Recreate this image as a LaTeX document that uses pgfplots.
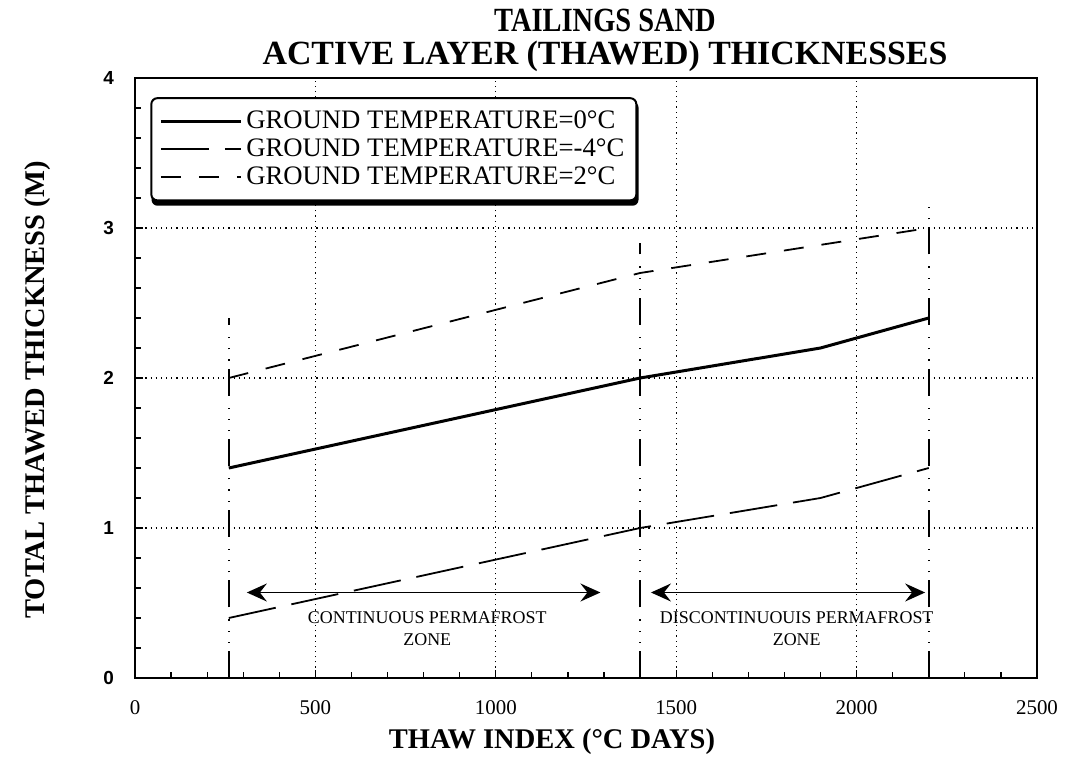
\documentclass[border=0pt]{standalone}
\usepackage{fontspec}
\setmainfont{Liberation Serif}
\newfontfamily\sansfont{Liberation Sans}
\usepackage{graphicx}
\usepackage{pgfplots}
\pgfplotsset{compat=1.18}
\usetikzlibrary{arrows.meta,backgrounds}

\begin{document}
\begin{tikzpicture}
\path[use as bounding box] (0,0) rectangle (535bp,386bp);
\begin{axis}[
  at={(67.5bp,47bp)}, anchor=south west,
  scale only axis, width=451bp, height=300bp,
  xmin=0, xmax=2500, ymin=0, ymax=4,
  xtick={0,500,1000,1500,2000,2500}, ytick={0,1,2,3,4},
  minor x tick num=4, minor y tick num=4,
  xtick pos=lower, ytick pos=left, tick align=inside,
  major tick length=4bp, minor tick length=3bp,
  grid=major, major grid style={black, line width=0.6bp, dotted},
  axis line style={line width=1.2bp},
  tick style={black, line width=0.6bp},
  /pgf/number format/assume math mode=true,
  /pgf/number format/set thousands separator={},
  xticklabel style={font=\fontsize{10.5}{12}\selectfont, yshift=-8bp},
  yticklabel style={font=\sansfont\bfseries\fontsize{9.5}{10}\selectfont, xshift=-7bp},
  legend style={name=leg, at={(0.017,0.968)}, anchor=north west, draw=black, line width=1bp,
    rounded corners=3bp, fill=white,
    font=\fontsize{13.4}{13.5}\selectfont, inner xsep=4bp, inner ysep=4.5bp, row sep=-0.5bp},
  legend cell align=left,
  legend image code/.code={\draw[#1] (0bp,0bp) -- (40bp,0bp);},
]
\addplot[black, line width=1.5bp] coordinates {(260,1.4) (1400,2.0) (1900,2.2) (2200,2.4)};
\addlegendentry{GROUND TEMPERATURE=0°C}
\addplot[black, line width=0.9bp, dash pattern=on 24bp off 8bp] coordinates {(260,0.4) (1400,1.0) (1900,1.2) (2200,1.4)};
\addlegendentry{GROUND TEMPERATURE=-4°C}
\addplot[black, line width=0.9bp, dash pattern=on 10bp off 9bp] coordinates {(260,2.0) (1400,2.7) (2200,3.0)};
\addlegendentry{GROUND TEMPERATURE=2°C}

\addplot[forget plot, black, line width=0.8bp, dash pattern=on 13.5bp off 4bp on 0.6bp off 5bp on 0.6bp off 5bp on 0.6bp off 6bp] coordinates {(260,0) (260,2.4)};
\addplot[forget plot, black, line width=0.8bp, dash pattern=on 13.5bp off 4bp on 0.6bp off 5bp on 0.6bp off 5bp on 0.6bp off 6bp] coordinates {(1400,0) (1400,2.9)};
\addplot[forget plot, black, line width=0.8bp, dash pattern=on 13.5bp off 4bp on 0.6bp off 5bp on 0.6bp off 5bp on 0.6bp off 6bp] coordinates {(2200,0) (2200,3.2)};

\draw[{Stealth[length=10bp,width=9bp,inset=3.5bp]}-{Stealth[length=10bp,width=9bp,inset=3.5bp]}, line width=0.8bp] (axis cs:310,0.57) -- (axis cs:1290,0.57);
\draw[{Stealth[length=10bp,width=9bp,inset=3.5bp]}-{Stealth[length=10bp,width=9bp,inset=3.5bp]}, line width=0.8bp] (axis cs:1430,0.57) -- (axis cs:2190,0.57);
\node[font=\fontsize{9}{11}\selectfont, align=center] at (axis cs:810,0.33) {CONTINUOUS PERMAFROST\\ZONE};
\node[font=\fontsize{9}{11}\selectfont, align=center] at (axis cs:1834,0.33) {DISCONTINUOUIS PERMAFROST\\ZONE};
\end{axis}
\begin{scope}[on background layer]
\fill[black, rounded corners=3bp] ([xshift=0.6bp,yshift=-2.2bp]leg.south west) rectangle ([xshift=0.6bp,yshift=-2.2bp]leg.north east);
\end{scope}
\node[font=\bfseries\fontsize{17}{16.5}\selectfont, align=center] at (302.5bp,366bp) {\scalebox{0.84}[1]{TAILINGS SAND}\\ACTIVE LAYER (THAWED) THICKNESSES};
\node[font=\bfseries\fontsize{14.3}{16}\selectfont] at (276bp,15bp) {THAW INDEX (°C DAYS)};
\node[font=\bfseries\fontsize{14.3}{16}\selectfont, rotate=90] at (19bp,191bp) {TOTAL THAWED THICKNESS (M)};
\end{tikzpicture}
\end{document}
